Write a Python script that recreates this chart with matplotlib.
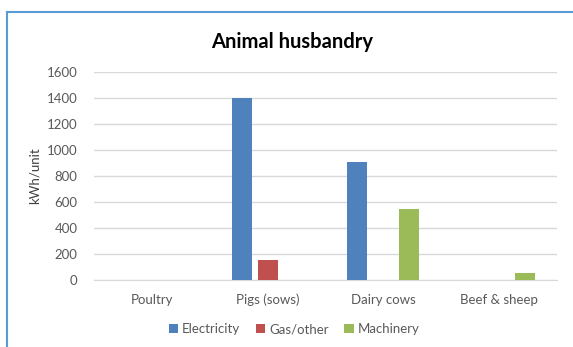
import numpy as np
import matplotlib.pyplot as plt
from matplotlib.lines import Line2D

categories = ['Poultry', 'Pigs (sows)', 'Dairy cows', 'Beef & sheep']
electricity = [0, 1400, 910, 0]
gas_other = [0, 155, 0, 0]
machinery = [0, 0, 550, 55]
series_names = ['Electricity', 'Gas/other', 'Machinery']
colors = ['#4F81BD', '#C0504D', '#9BBB59']

plt.rcParams['font.family'] = ['Lato', 'DejaVu Sans']

fig = plt.figure(figsize=(5.73, 3.47), dpi=100)
ax = fig.add_axes([94/573, 1-280/347, (557-94)/573, (280-72)/347])

x = np.arange(len(categories))
w = 0.173
off = 0.225
for k, (vals, name) in enumerate(zip([electricity, gas_other, machinery], series_names)):
    ax.bar(x + (k-1)*off, vals, width=w, color=colors[k], label=name, zorder=3)

ax.set_xlim(-0.5, 3.5)
ax.set_ylim(0, 1600)
ax.set_yticks(range(0, 1601, 200))
ax.set_xticks(x)
ax.set_xticklabels(categories)
ax.yaxis.grid(True, color='#D9D9D9', linewidth=1)
ax.set_axisbelow(True)
for s in ['top', 'right', 'left']:
    ax.spines[s].set_visible(False)
ax.spines['bottom'].set_color('#D9D9D9')
ax.tick_params(length=0, labelsize=9.5, colors='#595959')
ax.tick_params(axis='x', pad=10)
ax.tick_params(axis='y', pad=12)
ax.set_ylabel('kWh/unit', fontsize=9.5, color='#404040', labelpad=4)

fig.text(292/573, 1-42/347, 'Animal husbandry', ha='center', va='center',
         fontsize=14.5, fontweight='bold', color='black')

fig.legend(loc='center', bbox_to_anchor=(294/573, 1-329/347), ncol=3, frameon=False,
           fontsize=9.5, handlelength=0.7, handleheight=0.7, handletextpad=0.3,
           columnspacing=1.2, labelcolor='#595959')

# chart border
fig.add_artist(Line2D([7/573, 7/573], [0, 1-12/347], color='#5B9BD5', linewidth=1.5))
fig.add_artist(Line2D([7/573, 1], [1-12/347, 1-12/347], color='#5B9BD5', linewidth=1.5))

fig.savefig('out.png', dpi=100)
